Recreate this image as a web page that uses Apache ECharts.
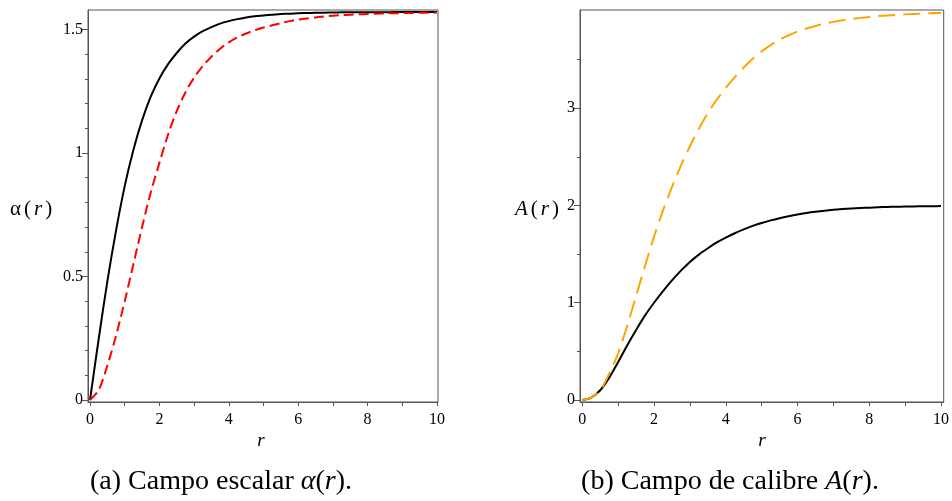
<!DOCTYPE html>
<html>
<head>
<meta charset="utf-8">
<script src="https://cdn.jsdelivr.net/npm/echarts@6/dist/echarts.min.js"></script>
<style>html,body{margin:0;padding:0;background:#fff;}#c{width:952px;height:501px;}</style>
</head>
<body>
<div id="c"></div>
<script>
// r samples (step 0.25)
const rVals = [0,0.25,0.5,0.75,1,1.25,1.5,1.75,2,2.25,2.5,2.75,3,3.25,3.5,3.75,4,4.25,4.5,4.75,5,5.25,5.5,5.75,6,6.25,6.5,6.75,7,7.25,7.5,7.75,8,8.25,8.5,8.75,9,9.25,9.5,9.75,10];
// (a) scalar field alpha(r)
const alphaSolid = [0,0.247,0.480,0.686,0.866,1.012,1.132,1.228,1.302,1.360,1.405,1.443,1.471,1.493,1.510,1.524,1.534,1.542,1.549,1.554,1.557,1.560,1.563,1.564,1.566,1.5667,1.5676,1.5682,1.5690,1.5694,1.5697,1.5699,1.5701,1.5702,1.5703,1.5704,1.5705,1.5706,1.5706,1.5707,1.5707];
const alphaDashed = [0,0.04,0.14,0.26,0.40,0.55,0.70,0.84,0.96,1.075,1.17,1.245,1.305,1.352,1.39,1.422,1.448,1.468,1.484,1.497,1.508,1.517,1.526,1.534,1.540,1.545,1.549,1.553,1.556,1.558,1.560,1.5615,1.563,1.564,1.565,1.566,1.5665,1.567,1.5675,1.568,1.5685];
// (b) gauge field A(r)
const ASolid = [0,0.025,0.10,0.23,0.39,0.56,0.72,0.87,1.00,1.12,1.23,1.33,1.42,1.495,1.56,1.62,1.67,1.715,1.755,1.79,1.82,1.847,1.87,1.89,1.908,1.923,1.936,1.947,1.956,1.963,1.969,1.974,1.978,1.982,1.985,1.987,1.989,1.991,1.992,1.993,1.994];
const ADashed = [0,0.025,0.10,0.27,0.48,0.76,1.07,1.38,1.68,1.95,2.19,2.41,2.61,2.79,2.95,3.09,3.21,3.32,3.42,3.51,3.585,3.65,3.705,3.75,3.79,3.82,3.847,3.87,3.889,3.905,3.918,3.93,3.94,3.948,3.955,3.961,3.966,3.971,3.975,3.978,3.981];
// ticks
const xTicks = [0,1,2,3,4,5,6,7,8,9,10];
const xLabels = [0,2,4,6,8,10];
const yAMajor = [0,0.5,1,1.5];
const yAMinor = [0.1,0.2,0.3,0.4,0.6,0.7,0.8,0.9,1.1,1.2,1.3,1.4];
const yBMajor = [0,1,2,3];
const yBMinor = [0.5,1.5,2.5,3.5];

const pairs = (xs, ys) => xs.map((x, i) => [x, ys[i]]);
const serif = '"Liberation Serif", "DejaVu Serif", serif';
const axisCol = '#555';

function xAxes(gi, min, max) {
  return [{
    type: 'value', gridIndex: gi, min: min, max: max, position: 'bottom',
    axisLine: {show: true, onZero: false, lineStyle: {color: axisCol, width: 1}},
    axisTick: {show: true, customValues: xTicks, length: 4, lineStyle: {color: axisCol}},
    axisLabel: {customValues: xLabels, fontFamily: serif, fontSize: 16, color: '#000', margin: 10},
    splitLine: {show: false}
  }];
}
function yAxes(gi, min, max, major, minor) {
  return [{
    type: 'value', gridIndex: gi, min: min, max: max, position: 'left',
    axisLine: {show: true, onZero: false, lineStyle: {color: axisCol, width: 1}},
    axisTick: {show: true, customValues: major, length: 6, lineStyle: {color: axisCol}},
    axisLabel: {customValues: major, fontFamily: serif, fontSize: 16, color: '#000', margin: 5, formatter: v => String(v)},
    splitLine: {show: false}
  }, {
    type: 'value', gridIndex: gi, min: min, max: max, position: 'left', offset: 0,
    axisLine: {show: false, onZero: false},
    axisTick: {show: true, customValues: minor, length: 3, lineStyle: {color: axisCol}},
    axisLabel: {show: false},
    splitLine: {show: false}
  }];
}

const richBase = (fs) => ({
  n: {fontFamily: serif, fontSize: fs, fill: '#000'},
  i: {fontFamily: serif, fontSize: fs, fontStyle: 'italic', fill: '#000'},
  s: {fontFamily: serif, fontSize: 12, fill: '#000'}
});

const chart = echarts.init(document.getElementById('c'), null, {renderer: 'canvas'});
chart.setOption({
  animation: false,
  backgroundColor: '#fff',
  grid: [
    {left: 88, top: 10, width: 350, height: 392, show: true, borderColor: axisCol, borderWidth: 1, backgroundColor: 'transparent'},
    {left: 580, top: 10, width: 365, height: 392, show: true, borderColor: axisCol, borderWidth: 1, backgroundColor: 'transparent'}
  ],
  xAxis: [...xAxes(0, -0.058, 10.03), ...xAxes(1, -0.064, 10.075)],
  yAxis: [
    ...yAxes(0, -0.008, 1.579, yAMajor, yAMinor),
    ...yAxes(1, -0.021, 4.011, yBMajor, yBMinor)
  ],
  series: [
    {type: 'line', xAxisIndex: 0, yAxisIndex: 0, data: pairs(rVals, alphaSolid), smooth: 0.3, showSymbol: false,
     lineStyle: {color: '#000', width: 2}},
    {type: 'line', xAxisIndex: 0, yAxisIndex: 0, data: pairs(rVals, alphaDashed), smooth: 0.3, showSymbol: false,
     lineStyle: {color: '#ff0000', width: 2, type: [10, 5]}},
    {type: 'line', xAxisIndex: 1, yAxisIndex: 2, data: pairs(rVals, ASolid), smooth: 0.3, showSymbol: false,
     lineStyle: {color: '#000', width: 2}},
    {type: 'line', xAxisIndex: 1, yAxisIndex: 2, data: pairs(rVals, ADashed), smooth: 0.3, showSymbol: false,
     lineStyle: {color: '#ffa500', width: 2, type: [17, 8]}}
  ],
  graphic: [
    {type: 'text', x: 10, y: 209, style: {text: '{n|α}{s| }{n|(}{s| }{i|r}{s| }{n|)}', verticalAlign: 'middle', rich: richBase(21)}},
    {type: 'text', x: 515, y: 209, style: {text: '{i|A}{s| }{n|(}{s| }{i|r}{s| }{n|)}', verticalAlign: 'middle', rich: richBase(21)}},
    {type: 'text', x: 261, y: 441, style: {text: 'r', fontFamily: serif, fontSize: 19, fontStyle: 'italic', fill: '#000', align: 'center', verticalAlign: 'middle'}},
    {type: 'text', x: 762, y: 441, style: {text: 'r', fontFamily: serif, fontSize: 19, fontStyle: 'italic', fill: '#000', align: 'center', verticalAlign: 'middle'}},
    {type: 'text', x: 221, y: 482, style: {text: '{n|(a) Campo escalar }{i|α}{n|(}{i|r}{n|).}', align: 'center', verticalAlign: 'middle', rich: richBase(28)}},
    {type: 'text', x: 730, y: 482, style: {text: '{n|(b) Campo de calibre }{i|A}{n|(}{i|r}{n|).}', align: 'center', verticalAlign: 'middle', rich: richBase(28)}}
  ]
});
</script>
</body>
</html>
